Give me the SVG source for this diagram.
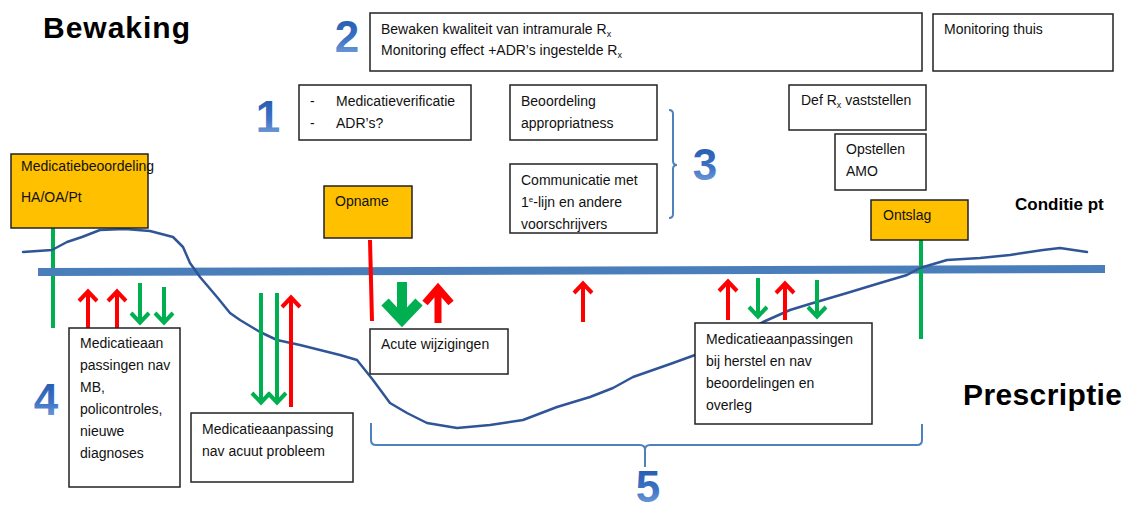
<svg xmlns="http://www.w3.org/2000/svg" width="1125" height="512" viewBox="0 0 1125 512">
<defs>
<linearGradient id="numg" x1="0" y1="0" x2="0" y2="1">
<stop offset="0" stop-color="#1f55a8"/>
<stop offset="0.55" stop-color="#3d72c4"/>
<stop offset="1" stop-color="#86acdf"/>
</linearGradient>
<style>
.t{font-family:"Liberation Sans",Arial,sans-serif;font-size:14px;fill:#111}
.tb{font-family:"Liberation Sans",Arial,sans-serif;font-weight:bold;fill:#000}
.num{font-family:"Liberation Sans",Arial,sans-serif;font-weight:bold;font-size:44px;fill:url(#numg);text-anchor:middle}
.box{fill:#fff;stroke:#222;stroke-width:1.5}
.obox{fill:#FFC000;stroke:#222;stroke-width:1.5}
.red{fill:none;stroke:#FF0000;stroke-linejoin:miter;stroke-miterlimit:10}
.grn{fill:none;stroke:#00B050;stroke-linejoin:miter;stroke-miterlimit:10}
.brk{fill:none;stroke:#4F81BD;stroke-width:2}
.sub{font-size:9px}
</style>
</defs>
<rect width="1125" height="512" fill="#fff"/>

<g id="labels">
<text class="tb" x="43" y="38" font-size="30" textLength="147">Bewaking</text>
<text class="tb" x="963" y="405" font-size="30" textLength="159">Prescriptie</text>
<text class="tb" x="1015" y="210" font-size="17">Conditie pt</text>
<text class="num" x="347" y="52">2</text>
<text class="num" x="268" y="132">1</text>
<text class="num" x="705" y="180">3</text>
<text class="num" x="46" y="415">4</text>
<text class="num" x="648" y="502" font-size="40">5</text>
</g>

<g id="connectors">
<line x1="53" y1="228" x2="53" y2="328" class="grn" stroke-width="4"/>
<line x1="38" y1="272" x2="1105" y2="269" stroke="#4A7EBB" stroke-width="8"/>
<line x1="921" y1="240" x2="921" y2="339" class="grn" stroke-width="4"/>
<polyline fill="none" stroke="#2F5597" stroke-width="2.5" stroke-linejoin="round" stroke-linecap="round" points="23,252 52,250 67,242 82,237 100,230 125,229 150,231 173,237 183,247 190,263 200,277 217,297 230,313 240,320 260,332 277,340 300,345 340,355 357,360 373,380 390,403 407,413 427,423 457,428 490,425 523,420 557,407 590,397 613,388 633,377 673,363 695,355 763,322 790,310 813,303 847,293 880,283 907,275 920,268 947,260 980,258 1010,255 1043,250 1060,248 1087,252"/>
<!-- left group arrows -->
<path class="red" stroke-width="4" d="M88,328 V292 M79,301 L88,291.5 L97,301"/>
<path class="red" stroke-width="4" d="M117,328 V292 M108,301 L117,291.5 L126,301"/>
<path class="grn" stroke-width="4" d="M140,283 V322 M131,313 L140,322.5 L149,313"/>
<path class="grn" stroke-width="4" d="M164,287 V322 M155,313 L164,322.5 L173,313"/>
<!-- acute problem arrows -->
<path class="grn" stroke-width="4" d="M261,293 V402 M252,393 L261,402.5 L270,393"/>
<path class="grn" stroke-width="4" d="M277,293 V402 M268,393 L277,402.5 L286,393"/>
<path class="red" stroke-width="4" d="M291,407 V298 M282,307 L291,297.5 L300,307"/>
<!-- opname -->
<line x1="370" y1="240" x2="372" y2="321" class="red" stroke-width="4"/>
<path class="grn" stroke-width="10" d="M402,282 V318 M385,302 L402,320 L419,302"/>
<path class="red" stroke-width="7" d="M438,323 V290 M425,303 L438,288 L451,303"/>
<path class="red" stroke-width="4" d="M583,322 V284 M574,293 L583,283.5 L592,293"/>
<!-- ontslag side arrows -->
<path class="red" stroke-width="4" d="M728,320 V282 M719,291 L728,281.5 L737,291"/>
<path class="grn" stroke-width="4" d="M758,278 V316 M749,307 L758,316.5 L767,307"/>
<path class="red" stroke-width="4" d="M785,320 V284 M776,293 L785,283.5 L794,293"/>
<path class="grn" stroke-width="4" d="M817,280 V316 M808,307 L817,316.5 L826,307"/>
<!-- brackets -->
<path class="brk" d="M669,110 Q673,110 673,114 L673,161 Q673,165 677,165 Q673,165 673,169 L673,214 Q673,218 669,218"/>
<path class="brk" d="M371,423 L371,440 Q371,445 376,445 L640,445 Q645,445 645,450 L645,467 M645,450 Q645,445 650,445 L917,445 Q922,445 922,440 L922,424"/>
</g>

<g id="node-bewaken">
<rect class="box" x="370" y="13" width="552" height="58"/>
<text class="t" x="381" y="34" font-size="14.5">Bewaken kwaliteit van intramurale R<tspan class="sub" dy="3">x</tspan></text>
<text class="t" x="381" y="55" font-size="14.5">Monitoring effect +ADR’s ingestelde R<tspan class="sub" dy="3">x</tspan></text>
</g>
<g id="node-thuis">
<rect class="box" x="933" y="14" width="180" height="57"/>
<text class="t" x="944" y="34" font-size="14.5">Monitoring thuis</text>
</g>
<g id="node-verificatie">
<rect class="box" x="299" y="85" width="172" height="55"/>
<text class="t" x="310" y="106">-</text>
<text class="t" x="336" y="106" font-size="14.5">Medicatieverificatie</text>
<text class="t" x="310" y="128">-</text>
<text class="t" x="336" y="128" font-size="14.5">ADR’s?</text>
</g>
<g id="node-appropriatness">
<rect class="box" x="510" y="85" width="147" height="55"/>
<text class="t" x="521" y="106" font-size="14.5">Beoordeling</text>
<text class="t" x="521" y="128" font-size="14.5">appropriatness</text>
</g>
<g id="node-communicatie">
<rect class="box" x="510" y="164" width="147" height="69"/>
<text class="t" x="521" y="185">Communicatie met</text>
<text class="t" x="521" y="207">1<tspan font-size="8" dy="-5">e</tspan><tspan dy="5">-lijn en andere</tspan></text>
<text class="t" x="521" y="229">voorschrijvers</text>
</g>
<g id="node-defrx">
<rect class="box" x="789" y="85" width="137" height="45"/>
<text class="t" x="801" y="105" font-size="14.5">Def R<tspan class="sub" dy="3">x</tspan><tspan dy="-3"> vaststellen</tspan></text>
</g>
<g id="node-amo">
<rect class="box" x="835" y="134" width="91" height="56"/>
<text class="t" x="846" y="154" font-size="14.5">Opstellen</text>
<text class="t" x="846" y="176" font-size="14.5">AMO</text>
</g>
<g id="node-medicatiebeoordeling">
<rect class="obox" x="11" y="154" width="137" height="74"/>
<text class="t" x="21" y="171" font-size="12">Medicatiebeoordeling</text>
<text class="t" x="21" y="202" font-size="12">HA/OA/Pt</text>
</g>
<g id="node-opname">
<rect class="obox" x="324" y="186" width="88" height="52"/>
<text class="t" x="335" y="206">Opname</text>
</g>
<g id="node-ontslag">
<rect class="obox" x="871" y="200" width="97" height="40"/>
<text class="t" x="883" y="220">Ontslag</text>
</g>
<g id="node-aanpassingen-mb">
<rect class="box" x="69" y="328" width="111" height="159"/>
<text class="t" x="80" y="348">Medicatieaan</text>
<text class="t" x="80" y="370">passingen nav</text>
<text class="t" x="80" y="392">MB,</text>
<text class="t" x="80" y="414">policontroles,</text>
<text class="t" x="80" y="436">nieuwe</text>
<text class="t" x="80" y="458">diagnoses</text>
</g>
<g id="node-acuut">
<rect class="box" x="191" y="413" width="162" height="69"/>
<text class="t" x="202" y="434">Medicatieaanpassing</text>
<text class="t" x="202" y="456">nav acuut probleem</text>
</g>
<g id="node-acute-wijzigingen">
<rect class="box" x="370" y="329" width="138" height="45"/>
<text class="t" x="381" y="349">Acute wijzigingen</text>
</g>
<g id="node-herstel">
<rect class="box" x="695" y="323" width="177" height="101"/>
<text class="t" x="706" y="344">Medicatieaanpassingen</text>
<text class="t" x="706" y="366">bij herstel en nav</text>
<text class="t" x="706" y="388">beoordelingen en</text>
<text class="t" x="706" y="410">overleg</text>
</g>
</svg>
